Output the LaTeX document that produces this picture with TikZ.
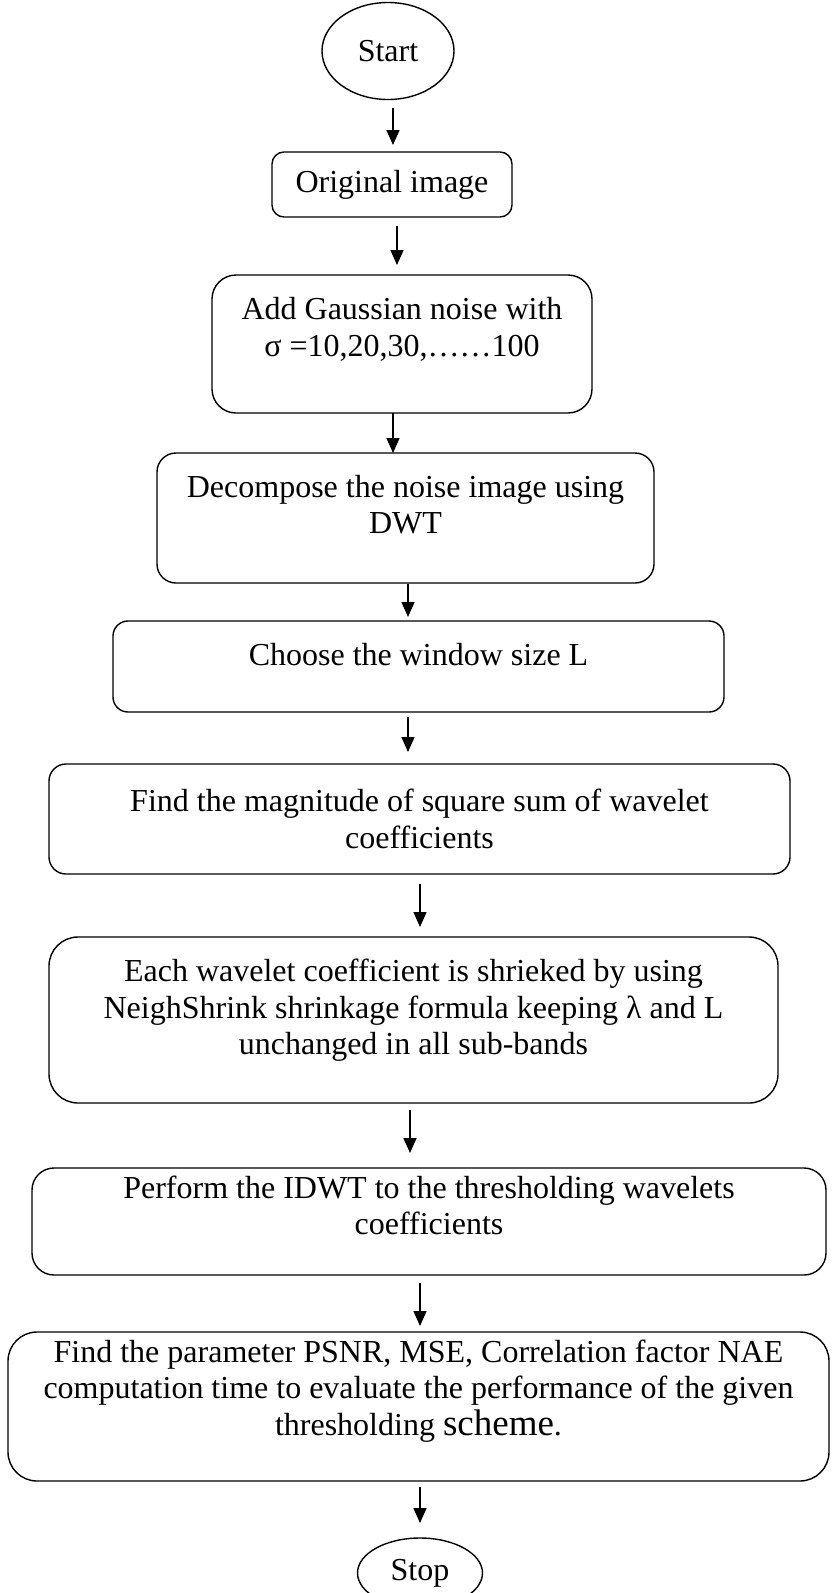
\documentclass[tikz,border=0pt]{standalone}
\usepackage{fontspec}
\setmainfont{Liberation Serif}
\usetikzlibrary{
    positioning, % relative placement
    arrows.meta, % arrow tips
    shapes.geometric % ellipse
}

\begin{document}
\begin{tikzpicture}[
    x=1pt, y=1pt,
    font=\fontsize{32}{36.5}\selectfont,
    arrow/.style={
        -{Triangle[length=15pt,width=13pt]},
        line width=1.5pt,
        draw=black
    },
    terminal/.style={
        draw=black,
        ellipse,
        line width=1.4pt,
        inner sep=0pt,
        outer sep=0pt
    },
    stepbox/.style={
        draw=black,
        rectangle,
        line width=1.4pt,
        align=center,
        inner sep=0pt,
        outer sep=0pt
    }
]
\useasboundingbox (0,0) rectangle (833,-1593);

% Start
\node[terminal, minimum width=132pt, minimum height=97pt] (start) at (388,-51)
{Start};

% Steps
\node[stepbox, rounded corners=12pt, minimum width=240pt, minimum height=65pt,
      below=52.5pt of start, xshift=4pt] (orig)
{Original image};

\node[stepbox, rounded corners=24pt, minimum width=380pt, minimum height=138pt,
      below=58pt of orig, xshift=10pt] (noise)
{Add Gaussian noise with\\
σ =10,20,30,……100\\[-2pt]\mbox{}};

\node[stepbox, rounded corners=19pt, minimum width=497pt, minimum height=130pt,
      below=40pt of noise, xshift=3.5pt] (decomp)
{Decompose the noise image using\\
DWT\\[-9pt]\mbox{}};

\node[stepbox, rounded corners=15pt, minimum width=611pt, minimum height=91pt,
      below=38pt of decomp, xshift=13pt] (window)
{Choose the window size L\\[-12pt]\mbox{}};

\node[stepbox, rounded corners=17pt, minimum width=741pt, minimum height=110pt,
      below=52pt of window, xshift=1pt] (magnitude)
{Find the magnitude of square sum of wavelet\\
coefficients};

\node[stepbox, rounded corners=29pt, minimum width=729pt, minimum height=166pt,
      below=63pt of magnitude, xshift=-6pt] (shrink)
{Each wavelet coefficient is shrieked by using\\
NeighShrink shrinkage formula keeping λ and L\\
unchanged in all sub-bands\\[-10pt]\mbox{}};

\node[stepbox, rounded corners=22pt, minimum width=794pt, minimum height=107pt,
      below=65pt of shrink, xshift=15.5pt] (idwt)
{Perform the IDWT to the thresholding wavelets\\
coefficients\\[-4pt]\mbox{}};

\node[stepbox, rounded corners=29pt, minimum width=821pt, minimum height=149pt,
      below=57pt of idwt, xshift=-10.5pt] (evaluate)
{Find the parameter PSNR, MSE, Correlation factor NAE\\
computation time to evaluate the performance of the given\\
thresholding {\fontsize{37}{36.5}\selectfont scheme}.\\[2pt]\mbox{}};

% Stop
\node[terminal, minimum width=125pt, minimum height=70pt,
      below=57pt of evaluate, xshift=1.5pt] (stop)
{Stop};

% Flow
\draw[arrow, shorten <=8.5pt, shorten >=7pt]
([xshift=5pt]start.south) -- ([xshift=5pt]start.south |- orig.north);
\draw[arrow, shorten <=9pt, shorten >=10pt]
([xshift=5pt]orig.south) -- ([xshift=5pt]orig.south |- noise.north);
\draw[arrow]
([xshift=-9pt]noise.south) -- ([xshift=-9pt]noise.south |- decomp.north);
\draw[arrow, shorten <=1pt, shorten >=4pt]
([xshift=2.5pt]decomp.south) -- ([xshift=2.5pt]decomp.south |- window.north);
\draw[arrow, shorten <=5pt, shorten >=12pt]
([xshift=-10.5pt]window.south) -- ([xshift=-10.5pt]window.south |- magnitude.north);
\draw[arrow, shorten <=10pt, shorten >=10pt]
([xshift=0.5pt]magnitude.south) -- ([xshift=0.5pt]magnitude.south |- shrink.north);
\draw[arrow, shorten <=7pt, shorten >=15pt]
([xshift=-3.5pt]shrink.south) -- ([xshift=-3.5pt]shrink.south |- idwt.north);
\draw[arrow, shorten <=8pt, shorten >=6pt]
([xshift=-9pt]idwt.south) -- ([xshift=-9pt]idwt.south |- evaluate.north);
\draw[arrow, shorten <=6pt, shorten >=15pt]
([xshift=1.5pt]evaluate.south) -- ([xshift=1.5pt]evaluate.south |- stop.north);

\end{tikzpicture}
\end{document}
